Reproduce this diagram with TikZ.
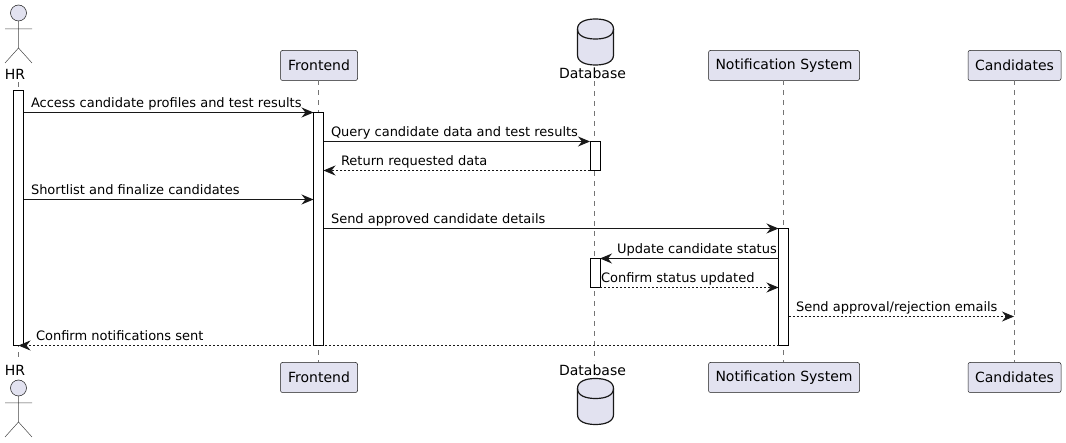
\documentclass[tikz,border=0pt]{standalone}
\usepackage{fontspec}
\setmainfont{DejaVu Sans}
\usetikzlibrary{arrows.meta}

\definecolor{partfill}{HTML}{E2E2F0}
\definecolor{partline}{HTML}{181818}

\begin{document}
\begin{tikzpicture}[x=1pt, y=-1pt, >={Stealth[length=12pt,width=10pt,inset=4pt]},
partbox/.style={rectangle, rounded corners=2pt, draw=partline, line width=0.5pt, fill=partfill, minimum height=30pt, inner sep=0pt, outer sep=0pt, font=\fontsize{14}{16}\selectfont},
headcircle/.style={circle, draw=partline, line width=0.5pt, fill=partfill, minimum size=16pt, inner sep=0pt, outer sep=0pt},
dbdrum/.pic={
    \draw[draw=partline, line width=1.2pt, fill=partfill] (-18,-13) .. controls (-18,-20) and (-10,-23) .. (0,-23)
      .. controls (10,-23) and (18,-20) .. (18,-13) -- (18,13) .. controls (18,20) and (10,23) .. (0,23)
      .. controls (-10,23) and (-18,20) .. (-18,13) -- cycle;
    \draw[draw=partline, line width=1.2pt] (-18,-13) .. controls (-18,-6) and (-10,-3) .. (0,-3)
      .. controls (10,-3) and (18,-6) .. (18,-13);
},
partlabel/.style={inner sep=0pt, outer sep=0pt, minimum height=17pt, font=\fontsize{14}{16}\selectfont},
lifeline/.style={draw=partline!60, line width=0.5pt, dash pattern=on 5pt off 5pt},
actorline/.style={draw=partline!80, line width=0.5pt},
actbar/.style={rectangle, draw=black, line width=1pt, fill=white, minimum width=10pt, inner sep=0pt, outer sep=0pt},
msg/.style={->, draw=partline, line width=1pt},
reply/.style={->, draw=partline, line width=0.75pt, dash pattern=on 2pt off 2pt},
msglabel/.style={anchor=base west, inner sep=0pt, outer sep=0pt, yshift=5pt, font=\fontsize{13}{15}\selectfont}]
    \useasboundingbox (0,0) rectangle (1066,443);

    % top row
    \node[headcircle] (hrHead) at (18.5,13) {};
    \node[partlabel] (hrTop) at (15,74) {HR};
    \node[partbox, minimum width=77pt] (feTop) at (319,65.5) {Frontend};
    \pic at (595.5,42) {dbdrum};
    \node[partlabel] (dataTop) at (592.5,73) {Database};
    \node[partbox, minimum width=151pt] (nsTop) at (784,65.5) {Notification System};
    \node[partbox, minimum width=93pt] (caTop) at (1014.5,65.5) {Candidates};

    % bottom row
    \node[partlabel] (hrEnd) at (15,370) {HR};
    \node[headcircle] (hrFoot) at (18.5,388) {};
    \node[partbox, minimum width=77pt] (feEnd) at (319,377.5) {Frontend};
    \node[partlabel] (dataEnd) at (592.5,370) {Database};
    \pic at (595.5,401.5) {dbdrum};
    \node[partbox, minimum width=151pt] (nsEnd) at (784,377.5) {Notification System};
    \node[partbox, minimum width=93pt] (caEnd) at (1014.5,377.5) {Candidates};

    % stick figures
    \draw[actorline] (hrHead.south) -- (18.5,48) -- (5,63) (18.5,48) -- (32,63) (5,29) -- (32,29);
    \draw[actorline] (hrFoot.south) -- (18.5,422) -- (5,437) (18.5,422) -- (32,437) (5,403) -- (32,403);

    % lifelines
    \path[lifeline]
      (hrTop.south -| hrHead) edge (hrEnd.north -| hrHead)
      (feTop.south -| 318.5,0) edge (feEnd.north -| 318.5,0)
      (dataTop.south -| 594.5,0) edge (dataEnd.north -| 594.5,0)
      (nsTop.south -| 783.5,0) edge (nsEnd.north -| 783.5,0)
      (caTop) edge (caEnd);

    % activations
    \node[actbar, minimum height=255pt] (hrBar) at (18.5,218.5) {};
    \node[actbar, minimum height=233pt] (feBar) at (318.5,229) {};
    \node[actbar, minimum height=29pt] (dbBar) at (595,156) {};
    \node[actbar, minimum height=29pt] (dbBarTwo) at (595,273) {};
    \node[actbar, minimum height=117pt] (nsBar) at (783.5,287) {};
    \coordinate (caLine) at (1014,316.5);

    % messages
    \draw[msg] (hrBar.east |- 0,112.5) -- (feBar.west |- 0,112.5);
    \node[msglabel] (labelAccess) at (31,112.5) {Access candidate profiles and test results};
    \draw[msg] (feBar.east |- 0,141.5) -- (dbBar.west |- 0,141.5);
    \node[msglabel] (labelQuery) at (331,141.5) {Query candidate data and test results};
    \draw[reply] (dbBar.west |- 0,170.5) -- (feBar.east |- 0,170.5);
    \node[msglabel] (labelReturn) at (341,170.5) {Return requested data};
    \draw[msg] (hrBar.east |- 0,199.5) -- (feBar.west |- 0,199.5);
    \node[msglabel] (labelShort) at (31,199.5) {Shortlist and finalize candidates};
    \draw[msg] (feBar.east |- 0,228.5) -- (nsBar.west |- 0,228.5);
    \node[msglabel] (labelSend) at (331,228.5) {Send approved candidate details};
    \draw[msg] (nsBar.west |- 0,258.5) -- (dbBarTwo.east |- 0,258.5);
    \node[msglabel] (labelUpdate) at (617,258.5) {Update candidate status};
    \draw[reply] (dbBarTwo.east |- 0,287.5) -- (nsBar.west |- 0,287.5);
    \node[msglabel] (labelConfirm) at (601,287.5) {Confirm status updated};
    \draw[reply] (nsBar.east |- caLine) -- (caLine);
    \node[msglabel] (labelEmails) at (796,316.5) {Send approval/rejection emails};
    \draw[reply] (nsBar.west |- 0,345.5) -- (hrBar.center |- 0,345.5);
    \node[msglabel] (labelNotes) at (36,345.5) {Confirm notifications sent};
\end{tikzpicture}
\end{document}
